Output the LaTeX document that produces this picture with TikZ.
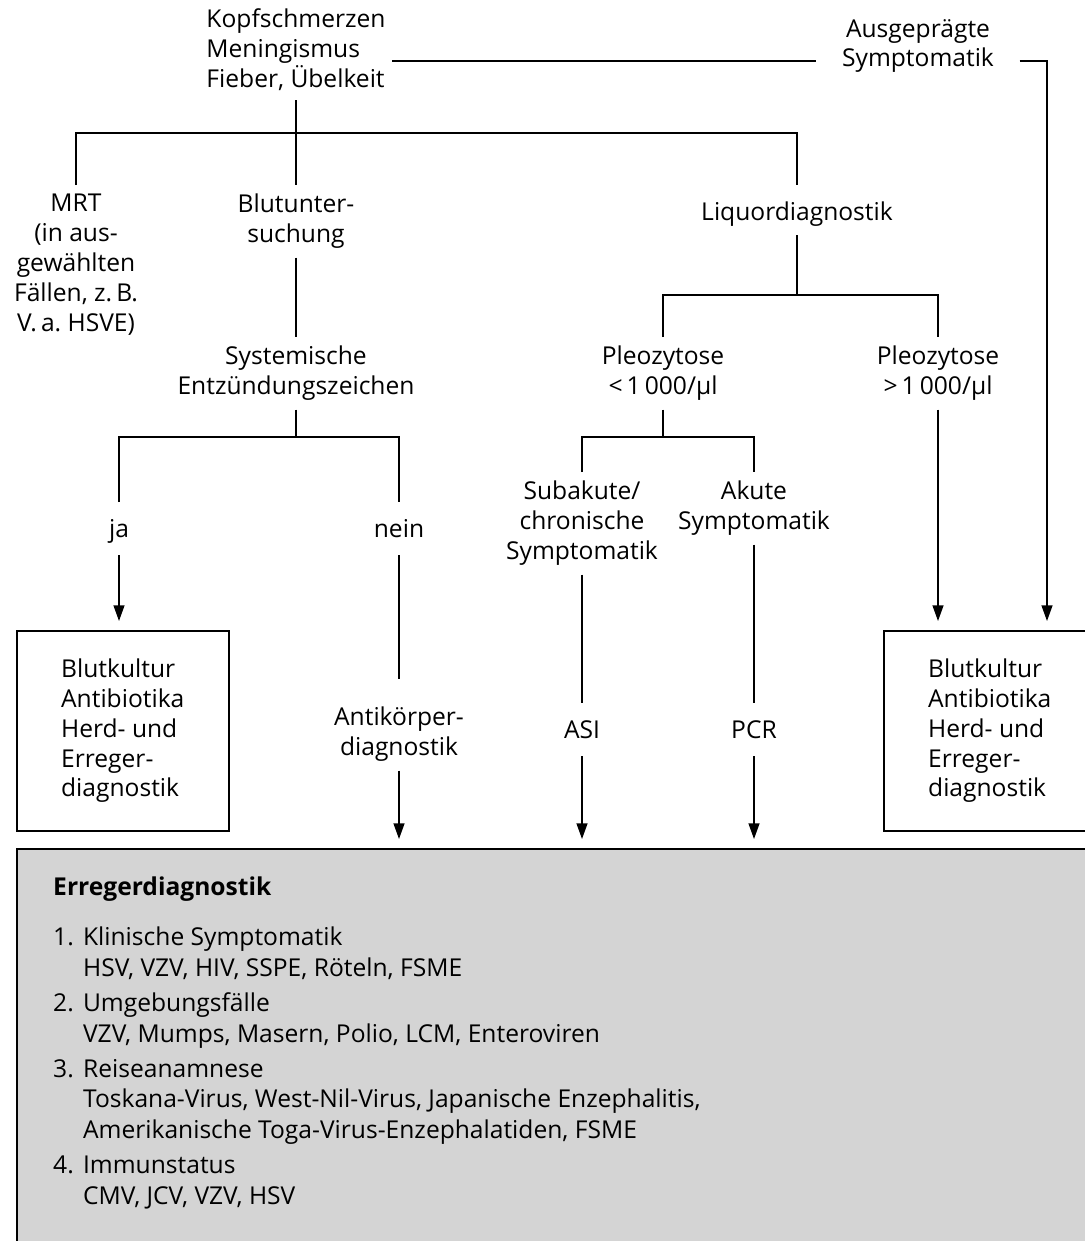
\documentclass[tikz,border=0pt]{standalone}
\usepackage{fontspec}
\setmainfont{Open Sans}
\usetikzlibrary{arrows.meta}

\definecolor{boxgray}{RGB}{212,212,212}
\newcommand{\nr}[1]{\makebox[17pt][l]{#1}}
\newcommand{\ind}{\hspace*{17pt}}

\begin{document}
\begin{tikzpicture}[x=0.02cm, y=-0.02cm, line width=1.4pt,
    lbl/.style={align=center, inner xsep=3pt, inner ysep=4.5pt, anchor=north,
        font=\fontsize{14}{17}\selectfont,
        execute at begin node={\rule{0pt}{14.8pt}}},
    flat/.style={text depth=5pt},
    box/.style={draw, line width=0.9pt, align=left, anchor=north west,
        minimum width=4.24cm, minimum height=4cm,
        font=\fontsize{14}{17}\selectfont},
    arr/.style={-{Triangle[length=9pt,width=6pt]}, shorten >=5pt}]
  \useasboundingbox (0,0) rectangle (1085,1241);

  % Leitsymptome oben
  \node[lbl, align=left] (top) at (296,0) {Kopfschmerzen\\Meningismus\\Fieber, Übelkeit};
  \node[lbl, inner xsep=14pt] (ausg) at (918,10) {Ausgeprägte\\Symptomatik};
  \coordinate (ausR) at (1047,61);

  % erste Ebene
  \node[lbl] (mrt) at (76,185) {MRT\\(in aus-\\gewählten\\Fällen, z.\,B.\\V.\,a.\ HSVE)};
  \node[lbl] (blut) at (296,185) {Blutunter-\\suchung};
  \node[lbl] (liq) at (797,185) {Liquordiagnostik};
  \coordinate (s1) at (296,133);

  % Blut
  \node[lbl] (sys) at (296,337) {Systemische\\Entzündungszeichen};
  \coordinate (s3) at (296,437);
  \node[lbl, flat] (ja) at (119,502) {ja};
  \node[lbl, flat] (nein) at (399,502) {nein};
  \node[lbl] (anti) at (399,698) {Antikörper-\\diagnostik};

  % Liquor
  \coordinate (s2) at (797,295);
  \node[lbl] (pleoA) at (663,337) {Pleozytose\\<\,1\,000/µl};
  \node[lbl] (pleoB) at (938,337) {Pleozytose\\>\,1\,000/µl};
  \coordinate (s4) at (663,437);
  \node[lbl] (suba) at (582,472) {Subakute/\\chronische\\Symptomatik};
  \node[lbl] (akut) at (754,472) {Akute\\Symptomatik};
  \node[lbl, flat] (asi) at (582,703) {ASI};
  \node[lbl, flat] (pcr) at (754,703) {PCR};

  % Kaesten
  \node[box] (lbox) at (16,630) {Blutkultur\\Antibiotika\\Herd- und\\Erreger-\\diagnostik};
  \node[box] (rbox) at (883,630) {Blutkultur\\Antibiotika\\Herd- und\\Erreger-\\diagnostik};
  \node[draw, line width=1.3pt, fill=boxgray, anchor=north west,
      minimum width=22cm, minimum height=8.5cm] (gbox) at (16,848) {};
  \node[anchor=north west, inner sep=0pt, align=left,
      font=\fontsize{14}{17.5}\selectfont] (erreger) at (52,876)
    {\textbf{Erregerdiagnostik}\\[10.9pt]
     \nr{1.}Klinische Symptomatik\\
     \ind HSV, VZV, HIV, SSPE, Röteln, FSME\\[2.4pt]
     \nr{2.}Umgebungsfälle\\
     \ind VZV, Mumps, Masern, Polio, LCM, Enteroviren\\[2.4pt]
     \nr{3.}Reiseanamnese\\
     \ind Toskana-Virus, West-Nil-Virus, Japanische Enzephalitis,\\
     \ind Amerikanische Toga-Virus-Enzephalatiden, FSME\\[2.4pt]
     \nr{4.}Immunstatus\\
     \ind CMV, JCV, VZV, HSV};

  % Verbindungen
  \draw (top.east |- ausR) -- (ausg.west |- ausR);
  \draw[arr] (ausg.east |- ausR) -- (ausR) -- (ausR |- rbox.north);
  \draw (top.south) -- (blut.north);
  \draw (mrt.north) |- (s1) -| (liq.north);
  \draw (blut.south) -- (sys.north);
  \draw (sys.south) -- (s3);
  \draw (ja.north) |- (s3) -| (nein.north);
  \draw[arr] (ja.south) -- (ja.south |- lbox.north);
  \draw[shorten >=11pt] (nein.south) -- (anti.north);
  \draw[arr] (anti.south) -- (anti.south |- gbox.north);
  \draw (liq.south) -- (s2);
  \draw (pleoA.north) |- (s2) -| (pleoB.north);
  \draw (pleoA.south) -- (s4);
  \draw (suba.north) |- (s4) -| (akut.north);
  \draw (suba.south) -- (asi.north);
  \draw (akut.south) -- (pcr.north);
  \draw[arr] (asi.south) -- (asi.south |- gbox.north);
  \draw[arr] (pcr.south) -- (pcr.south |- gbox.north);
  \draw[arr] (pleoB.south) -- (pleoB.south |- rbox.north);
\end{tikzpicture}
\end{document}
